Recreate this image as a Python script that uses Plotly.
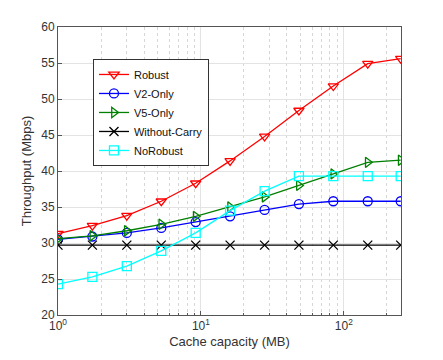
import plotly.graph_objects as go

# cache sizes (MB), log-spaced
cache_mb = [1, 1.74, 3.03, 5.28, 9.19, 16, 27.9, 48.5, 84.4, 147, 250]

robust = [31.3, 32.4, 33.8, 35.8, 38.3, 41.4, 44.8, 48.4, 51.8, 54.9, 55.6]
v2_only = [30.5, 30.9, 31.4, 32.1, 32.9, 33.7, 34.6, 35.4, 35.8, 35.8, 35.8]
v5_only = [30.6, 31.0, 31.7, 32.6, 33.7, 35.0, 36.4, 38.0, 39.6, 41.2, 41.5]
without_carry = [29.7] * 11
no_robust = [24.3, 25.3, 26.8, 28.9, 31.4, 34.5, 37.2, 39.3, 39.3, 39.3, 39.3]

x_major = [1, 10, 100]
x_major_text = ["10<sup>0</sup>", "10<sup>1</sup>", "10<sup>2</sup>"]
x_minor = [2, 3, 4, 5, 6, 7, 8, 9, 20, 30, 40, 50, 60, 70, 80, 90, 200]

series = [
    ("Robust", robust, "red", "triangle-down-open"),
    ("V2-Only", v2_only, "blue", "circle-open"),
    ("V5-Only", v5_only, "green", "triangle-right-open"),
    ("Without-Carry", without_carry, "black", "x-thin-open"),
    ("NoRobust", no_robust, "cyan", "square-open"),
]

fig = go.Figure()
for name, vals, color, sym in series:
    fig.add_trace(go.Scatter(
        x=cache_mb, y=vals, name=name, mode="lines+markers",
        line=dict(color=color, width=1.3),
        marker=dict(symbol=sym, size=9, color=color,
                    line=dict(color=color, width=1.3)),
    ))

font_family = "Liberation Sans, Arial"
axis_common = dict(
    showline=True, mirror=True, linecolor="#555", linewidth=1,
    ticks="inside", ticklen=4, tickcolor="#555",
    showgrid=True, gridcolor="#e3e3e3", gridwidth=1,
    zeroline=False,
    tickfont=dict(family=font_family, size=12, color="#333"),
    title_font=dict(family=font_family, size=13, color="#333"),
)

fig.update_xaxes(
    type="log", range=[0, 2.4],
    tickmode="array", tickvals=x_major, ticktext=x_major_text,
    minor=dict(tickmode="array", tickvals=x_minor,
               showgrid=True, gridcolor="#d6d6d6", griddash="dot",
               ticks="inside", ticklen=2, tickcolor="#555"),
    title_text="Cache capacity (MB)", title_standoff=4,
    **axis_common,
)
fig.update_yaxes(
    range=[20, 60], dtick=5,
    title_text="Throughput (Mbps)", title_standoff=6,
    **axis_common,
)

# page body adds an 8px margin, so the figure is sized to fit inside it
fig.update_layout(
    width=435, height=352,
    margin=dict(l=50, r=42, t=19, b=45),
    plot_bgcolor="white", paper_bgcolor="white",
    legend=dict(
        x=0.102, y=0.889, xanchor="left", yanchor="top",
        bgcolor="white", bordercolor="#333", borderwidth=1,
        font=dict(family=font_family, size=11, color="#111"),
        itemwidth=30, tracegroupgap=0,
    ),
)

fig.write_html("out.html")
